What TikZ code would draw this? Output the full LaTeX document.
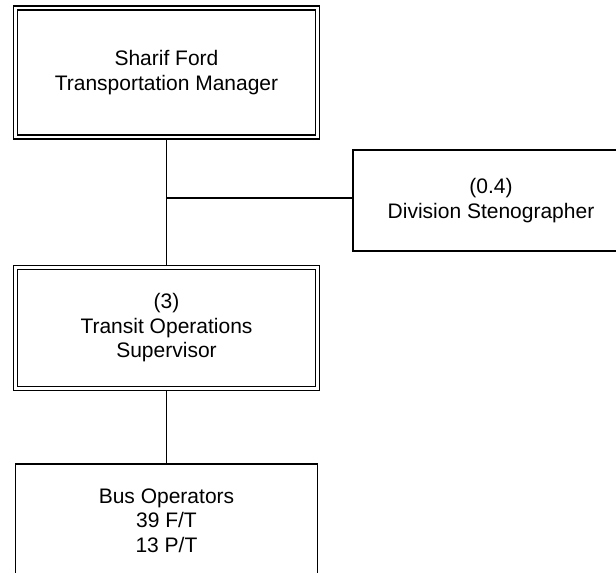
\documentclass[tikz,border=0pt]{standalone}
\usepackage{fontspec}
\setmainfont{Liberation Sans}
\usetikzlibrary{positioning}

\begin{document}
\begin{tikzpicture}[x=1pt, y=-1pt, every node/.style={font=\fontsize{21}{24.5}\selectfont},
			b/.style={draw, line width=1.4pt, minimum width=302pt, inner sep=0pt, align=center},
			bb/.style={b, double, double distance=2.6pt, outer sep=2.7pt},
			l/.style={line width=1.6pt}]
			\useasboundingbox (0,0) rectangle (616,573);
			\node[bb, minimum height=129pt] (mgr) at (166.5,72.5) {Sharif Ford\\Transportation Manager};
			\node[bb, minimum height=121pt, below=125pt of mgr] (sup) {(3)\\Transit Operations\\Supervisor};
			\node[b, minimum height=113pt, below=72pt of sup] (bus) {Bus Operators\\39 F/T\\13 P/T};
			\node[b, minimum width=276pt, minimum height=101pt] (sten) at (491,200.5) {(0.4)\\Division Stenographer};
			\coordinate (j) at (166.5,198);
			\foreach \a/\b in {mgr/sup, sup/bus} \draw[l] (\a) -- (\b);
			\draw[l] (j) -- (j -| sten.west);
		\end{tikzpicture}
\end{document}
